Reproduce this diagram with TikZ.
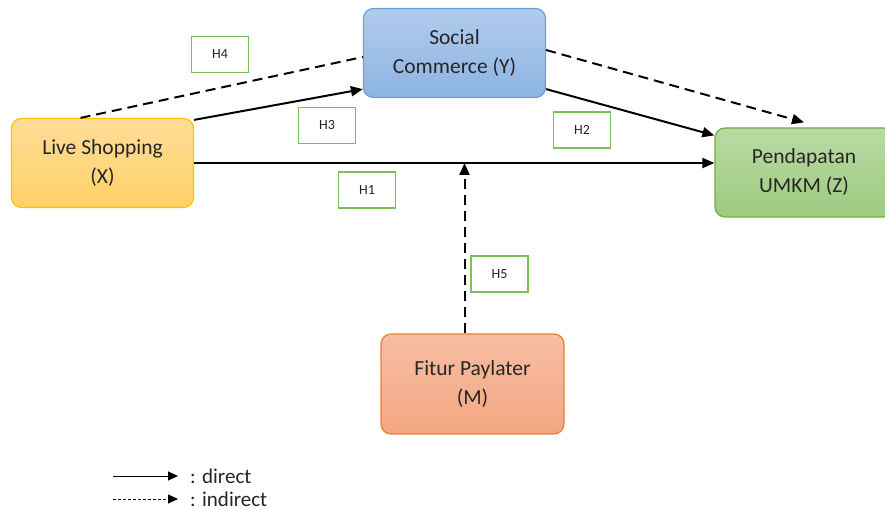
\documentclass[tikz,border=0pt]{standalone}
\usepackage{fontspec}
\setmainfont{Carlito}
\usetikzlibrary{arrows.meta}
\definecolor{goldline}{HTML}{FFC000}
\definecolor{goldtop}{HTML}{FFDC98}
\definecolor{goldbot}{HTML}{FFD267}
\definecolor{blueline}{HTML}{6A9FD8}
\definecolor{bluetop}{HTML}{B0CCEC}
\definecolor{bluebot}{HTML}{8DB3E2}
\definecolor{greenline}{HTML}{70AD47}
\definecolor{greentop}{HTML}{B9DAA3}
\definecolor{greenbot}{HTML}{9ECA80}
\definecolor{orangeline}{HTML}{ED7D31}
\definecolor{orangetop}{HTML}{F7BEA3}
\definecolor{orangebot}{HTML}{F4A681}
\definecolor{hypline}{HTML}{7CC05A}
\begin{document}
\begin{tikzpicture}[x=1pt,y=-1pt,
  var/.style={rounded corners=10pt, line width=1.2pt, minimum width=182pt, minimum height=89pt, align=center, font=\fontsize{21.5}{29}\selectfont, text=black!85},
  hyp/.style={draw=hypline, line width=1.2pt, fill=white, minimum width=57pt, minimum height=36pt, inner sep=0pt, font=\fontsize{14}{16}\selectfont, text=black!85},
  effect/.style={line width=2pt, -{Triangle[length=12pt,width=10pt]}},
  indeff/.style={line width=2pt, dash pattern=on 10pt off 6pt, -{Triangle[length=12pt,width=10pt]}},
  indline/.style={line width=2pt, dash pattern=on 10pt off 6pt},
  legtext/.style={anchor=west, inner sep=0pt, font=\fontsize{21}{24}\selectfont, text=black!85}]
\useasboundingbox (0,0) rectangle (885,510);
\node[var, draw=goldline, top color=goldtop, bottom color=goldbot] (live) at (102.5,163) {Live Shopping\\(X)};
\node[var, draw=blueline, top color=bluetop, bottom color=bluebot] (soc) at (454.5,53) {Social\\Commerce (Y)};
\node[var, draw=greenline, top color=greentop, bottom color=greenbot, minimum width=178pt] (pend) at (804,172.5) {Pendapatan\\UMKM (Z)};
\node[var, draw=orangeline, top color=orangetop, bottom color=orangebot, minimum width=183pt, minimum height=100pt] (pay) at (472.5,384) {Fitur Paylater\\(M)};
\draw[effect] (live.east) -- (live.east -| pend.west);
\draw[effect] ([yshift=-2pt]live.north east) -- ([yshift=9pt]soc.south west);
\draw[indline] ([xshift=-22pt]live.north) -- ([yshift=-4pt]soc.west);
\draw[effect] ([yshift=9pt]soc.south east) -- ([yshift=-8pt]pend.north west);
\draw[indeff] ([yshift=3pt]soc.east) -- ([yshift=5pt]pend.north);
\draw[indeff] ([xshift=-8pt]pay.north) -- ([xshift=-8pt]pay.north |- live.east);
\node[hyp] (h4) at (220,54.5) {H4};
\node[hyp] (h3) at (327,125.5) {H3};
\node[hyp] (h1) at (367,190) {H1};
\node[hyp] (h2) at (582,130) {H2};
\node[hyp] (h5) at (499.5,274) {H5};
\coordinate (ds) at (113,476);
\coordinate (de) at (178,476);
\coordinate (is) at (113,499);
\coordinate (ie) at (178,499);
\draw[line width=1pt, -{Triangle[length=10pt,width=9pt]}] (ds) -- (de);
\draw[line width=1pt, dash pattern=on 3pt off 2pt, -{Triangle[length=10pt,width=9pt]}] (is) -- (ie);
\node[legtext] (dtxt) at ([xshift=12pt]de) {: direct};
\node[legtext] (itxt) at ([xshift=12pt]ie) {: indirect};
\end{tikzpicture}
\end{document}
